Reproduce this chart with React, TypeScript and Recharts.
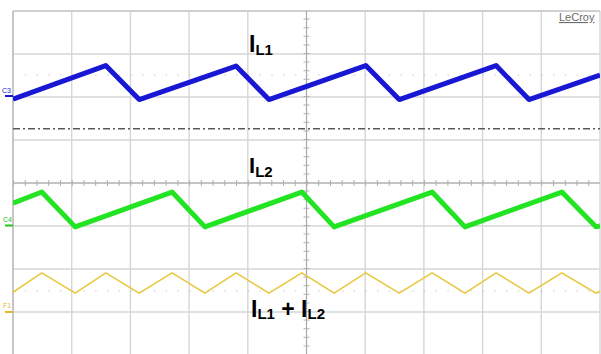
import React from 'react';
import { LineChart, Line, XAxis, YAxis, ReferenceLine } from 'recharts';

// scope screen: time and amplitude both in graticule divisions
const X_TICKS = [0, 1, 2, 3, 4, 5, 6, 7, 8, 9, 10];
const Y_TICKS = [-4, -3, -2, -1, 0, 1, 2, 3, 4];

// C3 - inductor current IL1
const IL1_TIME = [0, 1.58, 2.15, 3.8, 4.36, 6.01, 6.58, 8.23, 8.79, 10];
const IL1_VALUE = [1.95, 2.73, 1.94, 2.72, 1.94, 2.73, 1.94, 2.73, 1.94, 2.51];

// C4 - inductor current IL2
const IL2_TIME = [0, 0.49, 1.06, 2.71, 3.27, 4.92, 5.47, 7.14, 7.7, 9.35, 9.93, 10];
const IL2_VALUE = [-0.47, -0.21, -1.02, -0.21, -1.02, -0.21, -1.02, -0.21, -1.02, -0.21, -1.02, -1.0];

// F1 - math trace IL1 + IL2
const SUM_TIME = [
  0, 0.49, 1.06, 1.58, 2.15, 2.71, 3.27, 3.8, 4.36, 4.92,
  5.47, 6.01, 6.58, 7.14, 7.7, 8.23, 8.79, 9.35, 9.93, 10,
];
const SUM_VALUE = [
  -2.54, -2.09, -2.56, -2.09, -2.56, -2.09, -2.56, -2.09, -2.56, -2.09,
  -2.56, -2.09, -2.56, -2.09, -2.56, -2.09, -2.56, -2.09, -2.56, -2.52,
];

const DASH_DOT_LEVEL = 1.26;
const DOT_LEVELS = [2.51, -2.51];

const toPoints = (time: number[], value: number[]) => time.map((t, i) => ({ t, v: value[i] }));

const il1 = toPoints(IL1_TIME, IL1_VALUE);
const il2 = toPoints(IL2_TIME, IL2_VALUE);
const sum = toPoints(SUM_TIME, SUM_VALUE);

const FONT = '"Liberation Sans", Arial, sans-serif';
const GRID = '#d6d6d6';

const App = () => {
  return (
    <div
      style={{
        position: 'absolute',
        left: 0,
        top: 0,
        width: 601,
        height: 354,
        overflow: 'hidden',
        background: '#fff',
      }}
    >
      <LineChart width={601} height={356} margin={{ top: 11, right: 1, bottom: 1, left: 13 }}>
        <XAxis
          dataKey="t"
          type="number"
          domain={[0, 10]}
          ticks={X_TICKS}
          height={0}
          tick={false}
          tickLine={false}
          axisLine={false}
          allowDataOverflow
        />
        <YAxis
          type="number"
          domain={[-4, 4]}
          ticks={Y_TICKS}
          width={0}
          tick={false}
          tickLine={false}
          axisLine={false}
          allowDataOverflow
        />
        {/* graticule */}
        {X_TICKS.map((t) => (
          <ReferenceLine key={'x' + t} x={t} stroke={GRID} strokeWidth={1.4} />
        ))}
        {Y_TICKS.map((t) => (
          <ReferenceLine key={'y' + t} y={t} stroke={GRID} strokeWidth={1.4} />
        ))}
        <ReferenceLine y={4} stroke="#cfcfcf" strokeWidth={2} />
        <ReferenceLine x={0} stroke="#bdbdbd" strokeWidth={1.5} />

        {/* centre axes with minor ticks */}
        <ReferenceLine y={0} stroke="#a8a8a8" strokeWidth={1} />
        <ReferenceLine y={0} stroke="#b0b0b0" strokeWidth={6} strokeDasharray="1 10.74" />
        <ReferenceLine x={5} stroke="#a8a8a8" strokeWidth={1} />
        <ReferenceLine x={5} stroke="#b0b0b0" strokeWidth={6} strokeDasharray="1 7.6" />
        {DOT_LEVELS.map((lv) => (
          <ReferenceLine key={lv} y={lv} stroke="#c8c8c8" strokeWidth={1} strokeDasharray="1.5 10.24" />
        ))}
        <ReferenceLine y={DASH_DOT_LEVEL} stroke="#5a5a5a" strokeWidth={1.6} strokeDasharray="7 3 2 3" />

        <Line
          data={sum}
          dataKey="v"
          type="linear"
          stroke="#e8c73c"
          strokeWidth={1.6}
          dot={false}
          isAnimationActive={false}
        />
        <Line
          data={il2}
          dataKey="v"
          type="linear"
          stroke="#22e422"
          strokeWidth={5}
          strokeLinejoin="round"
          dot={false}
          isAnimationActive={false}
        />
        <Line
          data={il1}
          dataKey="v"
          type="linear"
          stroke="#1717d4"
          strokeWidth={5}
          strokeLinejoin="round"
          dot={false}
          isAnimationActive={false}
        />
      </LineChart>

      <svg
        width={601}
        height={354}
        style={{ position: 'absolute', left: 0, top: 0, pointerEvents: 'none' }}
        fontFamily={FONT}
      >
        <text x={559} y={21} fontSize={11} fill="#6a6a6a" textDecoration="underline">
          LeCroy
        </text>

        {/* channel markers */}
        <text x={2} y={93} fontSize={7} fill="#1717d4">C3</text>
        <rect x={5} y={95} width={8} height={2} fill="#1717d4" />
        <text x={3} y={222} fontSize={7} fill="#22c422">C4</text>
        <rect x={5} y={224.5} width={8} height={2} fill="#22c422" />
        <text x={3} y={308} fontSize={7} fill="#e0b830">F1</text>
        <rect x={5} y={311} width={8} height={2} fill="#e0b830" />

        <text x={249} y={52} fontSize={23} fontWeight="bold" fill="#000">
          I<tspan fontSize={15} dy={3}>L1</tspan>
        </text>
        <text x={249} y={173} fontSize={22} fontWeight="bold" fill="#000">
          I<tspan fontSize={15} dy={4}>L2</tspan>
        </text>
        <text x={251} y={317} fontSize={23} fontWeight="bold" fill="#000">
          I<tspan fontSize={15} dy={2}>L1</tspan>
          <tspan dy={-2}> + I</tspan>
          <tspan fontSize={15} dy={2}>L2</tspan>
        </text>
      </svg>
    </div>
  );
};

export default App;
